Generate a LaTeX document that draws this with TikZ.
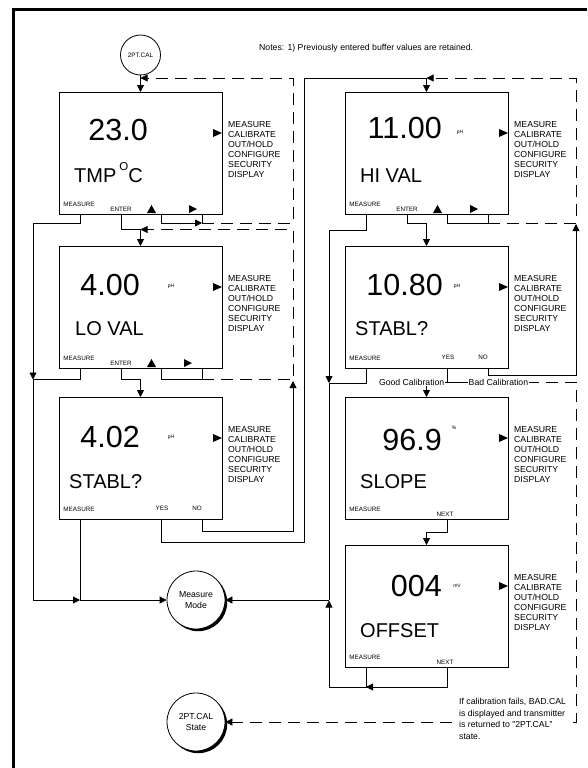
\documentclass[tikz,border=0pt]{standalone}
\usepackage{fontspec}
\setmainfont{Liberation Sans}
\usetikzlibrary{positioning,arrows.meta,shadows}

\begin{document}
\begin{tikzpicture}[
  x=1pt, y=-1pt,
  screen/.style={draw, line width=0.8pt, minimum width=163pt, minimum height=122pt,
                 inner sep=0pt, outer sep=0pt},
  wire/.style={line width=0.8pt},
  arr/.style={-{Triangle[length=7pt,width=7pt]}},
  dwire/.style={wire, dash pattern=on 12pt off 7pt},
  num/.style={font=\fontsize{30.5}{32}\selectfont, anchor=base east, inner sep=0pt},
  msg/.style={font=\fontsize{20}{22}\selectfont, anchor=base west, inner sep=0pt},
  unit/.style={font=\fontsize{5}{6}\selectfont, inner sep=0pt},
  menu/.style={font=\fontsize{8.7}{10}\selectfont, align=left, anchor=north west, inner sep=0pt},
  keylbl/.style={font=\fontsize{6.3}{7}\selectfont, inner sep=0pt},
  note/.style={font=\fontsize{8.7}{11.6}\selectfont, inner sep=1pt},
  mode/.style={circle, draw, line width=0.8pt, fill=white, minimum size=58pt, inner sep=0pt,
               align=center, font=\fontsize{8.7}{11}\selectfont,
               drop shadow={shadow xshift=2.2pt, shadow yshift=-2.2pt, fill=black, opacity=1}},
]
\useasboundingbox (0,0) rectangle (587,768);
% ---- frame
\draw[line width=3.5pt] (13.5,768) -- (13.5,9.5) -- (587,9.5);

% ---- states
\node[circle, draw, line width=0.8pt, minimum size=40pt, inner sep=0pt,
      font=\fontsize{6.4}{7}\selectfont] (c2pt) at (140.5,55) {2PT.CAL};
\node[mode] (mm) at (196,600) {Measure\\ Mode};
\node[mode] (st) at (196,722) {2PT.CAL\\ State};

% ---- screens
\node[screen] (b1) at (140.5,153) {};
\node[screen, below=32pt of b1] (b2) {};
\node[screen, below=29pt of b2] (b3) {};
\node[screen, right=123pt of b1] (b4) {};
\node[screen, below=32pt of b4] (b5) {};
\node[screen, below=29pt of b5] (b6) {};
\node[screen, below=26pt of b6] (b7) {};

\foreach \b in {b1,b2,b3,b4,b5,b6,b7} {
  \node[menu] at ([shift={(6,29)}]\b.north east)
    {MEASURE\\ CALIBRATE\\ OUT/HOLD\\ CONFIGURE\\ SECURITY\\ DISPLAY};
  \fill ([shift={(0,41)}]\b.north east) -- ++(-9,-4) -- ++(0,8) -- cycle;
  \coordinate (\b-k1) at ([shift={(21,0)}]\b.south west);
  \coordinate (\b-k2) at ([shift={(62,0)}]\b.south west);
  \coordinate (\b-k3) at ([shift={(102,0)}]\b.south west);
  \coordinate (\b-k4) at ([shift={(143,0)}]\b.south west);
}

% ---- readings
\node[num] at ([shift={(89,48)}]b1.north west) {23.0};
\node[msg] at ([shift={(15,90)}]b1.north west) {TMP\hspace{3pt}\raisebox{12pt}{\fontsize{11.5}{12}\selectfont O}C};
\node[num] at ([shift={(81,49)}]b2.north west) {4.00};
\node[unit] at ([shift={(112,40)}]b2.north west) {pH};
\node[msg] at ([shift={(16,89)}]b2.north west) {LO VAL};
\node[num] at ([shift={(81,50)}]b3.north west) {4.02};
\node[unit] at ([shift={(112,40)}]b3.north west) {pH};
\node[msg] at ([shift={(10,91)}]b3.north west) {STABL?};
\node[num] at ([shift={(97,46)}]b4.north west) {11.00};
\node[unit] at ([shift={(115,40)}]b4.north west) {pH};
\node[msg] at ([shift={(15,90)}]b4.north west) {HI VAL};
\node[num] at ([shift={(98,49)}]b5.north west) {10.80};
\node[unit] at ([shift={(112,40)}]b5.north west) {pH};
\node[msg] at ([shift={(10,89)}]b5.north west) {STABL?};
\node[num] at ([shift={(97,53)}]b6.north west) {96.9};
\node[unit] at ([shift={(109,31)}]b6.north west) {\%};
\node[msg] at ([shift={(15,91)}]b6.north west) {SLOPE};
\node[num] at ([shift={(97,51)}]b7.north west) {004};
\node[unit] at ([shift={(112,41)}]b7.north west) {mV};
\node[msg] at ([shift={(15,92)}]b7.north west) {OFFSET};

% ---- soft keys
\foreach \b in {b1,b2,b3,b5,b6,b7}
  \node[keylbl] at ([shift={(-1,-10)}]\b-k1) {MEASURE};
\node[keylbl] at ([shift={(-1,-10)}]b4-k1) {MEASURE};
\foreach \b in {b1,b2,b4}
  \node[keylbl] at ([shift={(0,-5)}]\b-k2) {ENTER};
\foreach \b/\o in {b1/-13,b2/-18,b4/-18} {
  \fill ([shift={(-14,-1)}]\b-k3) -- ++(9,0) -- ++(-4.5,-8) -- cycle;
  \fill ([shift={(\o,-1)}]\b-k4) -- ++(0,-8) -- ++(8,4) -- cycle;
}
\foreach \b in {b3,b5} {
  \node[keylbl] at ([shift={(1,-11)}]\b-k3) {YES};
  \node[keylbl] at ([shift={(-5,-11)}]\b-k4) {NO};
}
\foreach \b in {b6,b7}
  \node[keylbl] at ([shift={(-2,-5)}]\b-k3) {NEXT};

% ---- junctions
\coordinate (j1) at (140.5,78);
\coordinate (j2) at (140.5,229.5);
\coordinate (j3) at (140.5,379.5);
\coordinate (j4) at (426.5,78);
\coordinate (j5) at (426.5,223);
\coordinate (j6) at (426.5,382);
\coordinate (j7) at (426.5,532);

% ---- left column
\draw[wire,arr] (c2pt) -- (b1);
\draw[wire] (b1-k4) -- (b1-k4 |- 0,223);
\draw[wire,arr] (b1-k3) |- (b1-k4 |- 0,223);
\draw[dwire,arr] (b1-k4 |- 0,223) -| (293,78) -- (j1);
\draw[wire] (b1-k2) |- (j2);
\draw[wire,arr] (j2) -- (b2);
\draw[wire] (b2-k3) |- (b2-k4 |- j3) -- (b2-k4);
\draw[dwire,arr] (b2-k4 |- j3) -| (293,229.5) -- (j2);
\draw[wire] (b2-k2) |- (j3);
\draw[wire,arr] (j3) -- (b3);
\draw[wire,arr] (b3-k4) |- (293,531) -- (293,381);
\draw[wire] (b3-k3) |- (304,542) -- (304,78) -- (j4);

% ---- right column
\draw[wire,arr] (j4) -- (b4);
\draw[wire] (b4-k2) |- (j5);
\draw[wire,arr] (j5) -- (b5);
\draw[wire] (b4-k3) |- (b4-k4 |- j5) -- (b4-k4);
\draw[dwire,arr] (b4-k4 |- j5) -| (576,78) -- (j4);
\draw[wire,arr] (b5-k4) |- (576,375) -- (576,224);
\draw[wire] (b5-k3) |- (j6);
\draw[wire,arr] (j6) -- (b6);
\draw[wire] (b5-k3 |- j6) -- (527,382);
\draw[dwire,arr] (527,382) -| (576,722) -- (st);
\draw[wire] (b6-k3) |- (j7);
\draw[wire,arr] (j7) -- (b7);

% ---- to measure mode
\draw[wire] (b1-k1) |- (33,223);
\draw[wire,arr] (33,223) -- (33,379.5);
\draw[wire] (b2-k1) |- (33,379.5);
\draw[wire,arr] (33,379.5) |- (b3-k1 |- mm);
\draw[wire] (b3-k1) -- (b3-k1 |- mm);
\draw[wire,arr] (b3-k1 |- mm) -- (mm);
\draw[wire] (b4-k1) |- (329,230);
\draw[wire,arr] (329,230) -- (329,383);
\draw[wire] (b5-k1) |- (329,383);
\draw[wire] (329,383) -- (329,600);
\draw[wire,arr] (329,600) -- (mm);
\draw[wire,arr] (b7-k3) |- (b7-k1 |- 0,687);
\draw[wire] (b7-k1) -- (b7-k1 |- 0,687) -- (329,687);
\draw[wire,arr] (329,687) -- (329,600.5);

% ---- texts on the lines
\node[note, anchor=west] at (258,48) {Notes: 1) Previously entered buffer values are retained.};
\node[note, fill=white, anchor=east, inner sep=0.5pt] at (445,382) {Good Calibration};
\node[note, fill=white, anchor=west, inner sep=0.5pt] at (468,382) {Bad Calibration};
\node[note, fill=white, align=left, anchor=north west] at (458,697)
  {If calibration fails, BAD.CAL\\ is displayed and transmitter\\ is returned to "2PT.CAL"\\ state.};
\end{tikzpicture}
\end{document}
